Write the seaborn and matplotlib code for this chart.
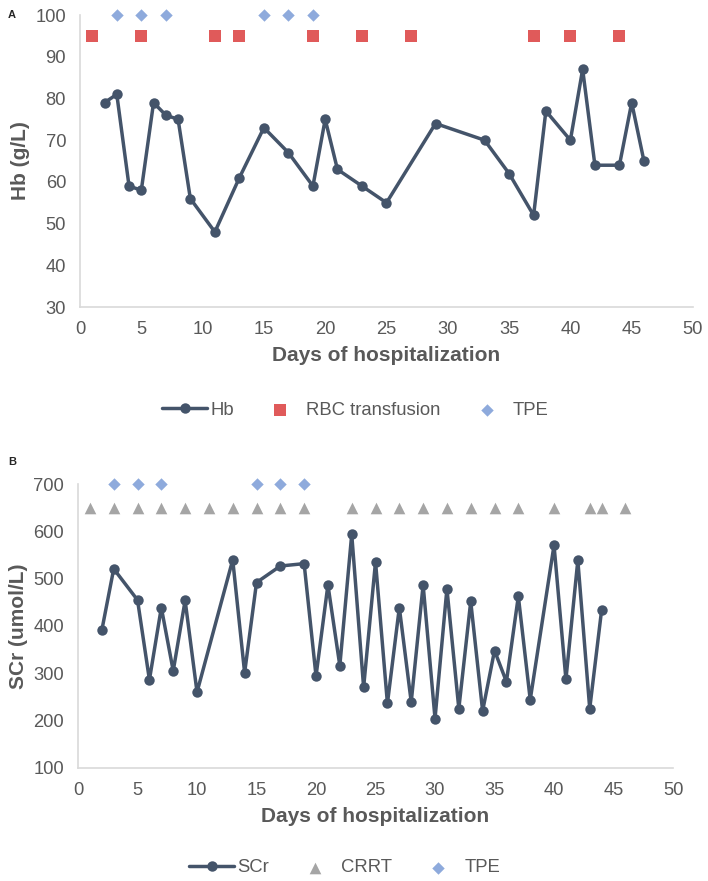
import matplotlib
matplotlib.use("Agg")
import matplotlib.pyplot as plt
import pandas as pd
import seaborn as sns

# Panel A: haemoglobin and treatments
hb_days = [2, 3, 4, 5, 6, 7, 8, 9, 11, 13, 15, 17, 19, 20, 21, 23, 25, 29, 33, 35, 37, 38, 40, 41, 42, 44, 45, 46]
hb_values = [79, 81, 59, 58, 79, 76, 75, 56, 48, 61, 73, 67, 59, 75, 63, 59, 55, 74, 70, 62, 52, 77, 70, 87, 64, 64, 79, 65]
rbc_days = [1, 5, 11, 13, 19, 23, 27, 37, 40, 44]
rbc_level = 95
tpe_days = [3, 5, 7, 15, 17, 19]
tpe_level_a = 100

# Panel B: serum creatinine and treatments
scr_days = [2, 3, 5, 6, 7, 8, 9, 10, 13, 14, 15, 17, 19, 20, 21, 22, 23, 24, 25, 26, 27, 28, 29, 30,
            31, 32, 33, 34, 35, 36, 37, 38, 40, 41, 42, 43, 44]
scr_values = [391, 521, 455, 286, 439, 305, 454, 260, 540, 301, 492, 527, 532, 294, 487, 316, 594, 270,
              536, 236, 439, 239, 487, 204, 479, 225, 452, 220, 348, 282, 463, 244, 571, 287, 539, 225, 434]
crrt_days = [1, 3, 5, 7, 9, 11, 13, 15, 17, 19, 23, 25, 27, 29, 31, 33, 35, 37, 40, 43, 44, 46]
crrt_level = 650
tpe_level_b = 700

LINE = '#44546a'
RED = '#e05a5a'
BLUE = '#8eaadc'
GREY = '#a5a5a5'
TXT = '#595959'

sns.set_style("white")
plt.rcParams['font.family'] = ['Liberation Sans', 'DejaVu Sans']

fig = plt.figure(figsize=(7.08, 8.81), dpi=100)
ax_a = fig.add_axes([0.113, 0.6515, 0.8658, 0.3314])
ax_b = fig.add_axes([0.1102, 0.1286, 0.8404, 0.3217])


def style_axes(ax, ylim, yticks, ylabel):
    ax.set_xlim(0, 50)
    ax.set_ylim(*ylim)
    ax.set_xticks(range(0, 51, 5))
    ax.set_yticks(yticks)
    ax.set_xlabel('Days of hospitalization', fontsize=15, fontweight='bold', color=TXT, labelpad=6)
    ax.set_ylabel(ylabel, fontsize=15, fontweight='bold', color=TXT, labelpad=4)
    ax.tick_params(length=0, labelsize=13.2, labelcolor=TXT, pad=10)
    for side in ['top', 'right']:
        ax.spines[side].set_visible(False)
    for side in ['left', 'bottom']:
        ax.spines[side].set_color('#d9d9d9')
        ax.spines[side].set_linewidth(1.2)
    if ax.get_legend() is not None:
        ax.get_legend().remove()


# Panel A
df_hb = pd.DataFrame({'day': hb_days, 'value': hb_values})
sns.lineplot(data=df_hb, x='day', y='value', ax=ax_a, color=LINE, linewidth=2.5,
             marker='o', markersize=7.5, markeredgewidth=0, label='Hb')
sns.scatterplot(x=rbc_days, y=[rbc_level] * len(rbc_days), ax=ax_a, color=RED, marker='s',
                s=85, linewidth=0, label='RBC transfusion', clip_on=False)
sns.scatterplot(x=tpe_days, y=[tpe_level_a] * len(tpe_days), ax=ax_a, color=BLUE, marker='D',
                s=40, linewidth=0, label='TPE', clip_on=False)
style_axes(ax_a, (30, 100), range(30, 101, 10), 'Hb (g/L)')
h, l = ax_a.get_legend_handles_labels()
fig.legend(h, l, loc='center', bbox_to_anchor=(0.502, 1 - 410 / 881), ncol=3, frameon=False,
           fontsize=13.3, labelcolor=TXT, handlelength=2.4, handletextpad=0.2, columnspacing=1.3)

# Panel B
df_scr = pd.DataFrame({'day': scr_days, 'value': scr_values})
sns.lineplot(data=df_scr, x='day', y='value', ax=ax_b, color=LINE, linewidth=2.5,
             marker='o', markersize=7.5, markeredgewidth=0, label='SCr')
sns.scatterplot(x=crrt_days, y=[crrt_level] * len(crrt_days), ax=ax_b, color=GREY, marker='^',
                s=70, linewidth=0, label='CRRT', clip_on=False)
sns.scatterplot(x=tpe_days, y=[tpe_level_b] * len(tpe_days), ax=ax_b, color=BLUE, marker='D',
                s=40, linewidth=0, label='TPE', clip_on=False)
style_axes(ax_b, (100, 700), range(100, 701, 100), 'SCr (umol/L)')
h, l = ax_b.get_legend_handles_labels()
fig.legend(h, l, loc='center', bbox_to_anchor=(0.487, 1 - 868 / 881), ncol=3, frameon=False,
           fontsize=13.3, labelcolor=TXT, handlelength=2.4, handletextpad=0.2, columnspacing=1.3)

fig.text(12 / 708, 1 - 15 / 881, 'A', fontsize=8, fontweight='bold', ha='center', va='center')
fig.text(12 / 708, 1 - 462 / 881, 'B', fontsize=8, fontweight='bold', ha='center', va='center')

fig.savefig('out.png', dpi=100)
